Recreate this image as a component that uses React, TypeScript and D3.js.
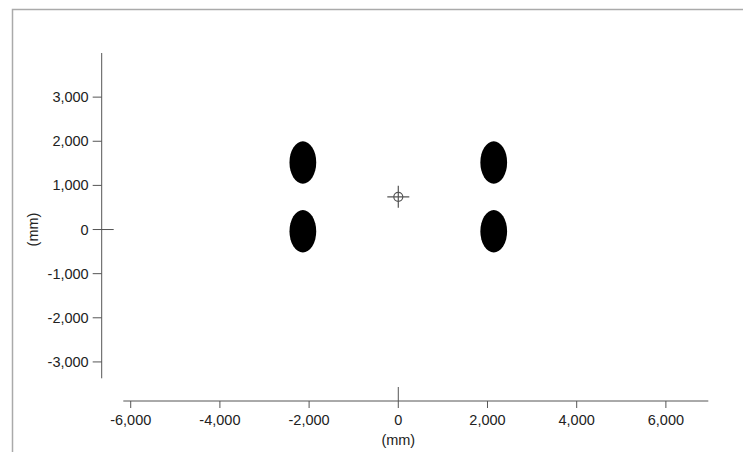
import { useEffect, useRef } from "react";
import * as d3 from "d3";

// tick values (mm)
const xTicks = [-6000, -4000, -2000, 0, 2000, 4000, 6000];
const yTicks = [-3000, -2000, -1000, 0, 1000, 2000, 3000];

// support pads (centre position in mm)
const padX = [-2140, -2140, 2140, 2140];
const padY = [1520, -40, 1520, -40];
const padWidthMm = 600;
const padLengthMm = 960;

// centre of gravity marker (mm)
const cogX = [0];
const cogY = [740];

const xDomain = [-6166, 6951];
const yDomain = [-3371, 4000];

const WIDTH = 743;
const HEIGHT = 452;

export default function App() {
  const svgRef = useRef<SVGSVGElement>(null);

  useEffect(() => {
    if (!svgRef.current) return;
    const svg = d3.select(svgRef.current);
    svg.selectAll("*").remove();

    const font = "'Liberation Sans', Arial, sans-serif";
    const axisColor = "#555";
    const textColor = "#222";
    const fontSize = "14.5px";

    const xScale = d3.scaleLinear().domain(xDomain).range([123.3, 708.3]);
    const yScale = d3.scaleLinear().domain(yDomain).range([378.3, 53]);
    const xAxisY = 401;
    const yAxisX = 101.7;

    // outer frame
    svg
      .append("path")
      .attr("d", `M12.5,${HEIGHT} V9.5 H${WIDTH}`)
      .attr("fill", "none")
      .attr("stroke", "#aaa")
      .attr("stroke-width", 1.5);

    // y axis
    const gy = svg.append("g");
    gy.append("line")
      .attr("x1", yAxisX)
      .attr("x2", yAxisX)
      .attr("y1", yScale(yDomain[1]))
      .attr("y2", yScale(yDomain[0]))
      .attr("stroke", axisColor);
    gy.selectAll(".ytick")
      .data(yTicks)
      .enter()
      .append("line")
      .attr("x1", yAxisX - 9)
      .attr("x2", (d) => (d === 0 ? yAxisX + 12 : yAxisX))
      .attr("y1", (d) => yScale(d))
      .attr("y2", (d) => yScale(d))
      .attr("stroke", axisColor);
    gy.selectAll(".ylabel")
      .data(yTicks)
      .enter()
      .append("text")
      .attr("x", yAxisX - 13)
      .attr("y", (d) => yScale(d) + 5)
      .attr("text-anchor", "end")
      .style("font-family", font)
      .style("font-size", fontSize)
      .style("fill", textColor)
      .text((d) => d3.format(",")(d).replace("−", "-"));
    svg
      .append("text")
      .attr("transform", `translate(38,${yScale(0)}) rotate(-90)`)
      .attr("text-anchor", "middle")
      .style("font-family", font)
      .style("font-size", fontSize)
      .style("fill", textColor)
      .text("(mm)");

    // x axis
    const gx = svg.append("g");
    gx.append("line")
      .attr("x1", xScale(xDomain[0]))
      .attr("x2", xScale(xDomain[1]))
      .attr("y1", xAxisY)
      .attr("y2", xAxisY)
      .attr("stroke", axisColor);
    gx.selectAll(".xtick")
      .data(xTicks)
      .enter()
      .append("line")
      .attr("x1", (d) => xScale(d))
      .attr("x2", (d) => xScale(d))
      .attr("y1", (d) => (d === 0 ? xAxisY - 14 : xAxisY))
      .attr("y2", xAxisY + 7)
      .attr("stroke", axisColor);
    gx.selectAll(".xlabel")
      .data(xTicks)
      .enter()
      .append("text")
      .attr("x", (d) => xScale(d))
      .attr("y", xAxisY + 24)
      .attr("text-anchor", "middle")
      .style("font-family", font)
      .style("font-size", fontSize)
      .style("fill", textColor)
      .text((d) => d3.format(",")(d).replace("−", "-"));
    svg
      .append("text")
      .attr("x", xScale(0))
      .attr("y", 445)
      .attr("text-anchor", "middle")
      .style("font-family", font)
      .style("font-size", fontSize)
      .style("fill", textColor)
      .text("(mm)");

    // pads
    const rx = Math.abs(xScale(padWidthMm / 2) - xScale(0));
    const ry = Math.abs(yScale(padLengthMm / 2) - yScale(0));
    svg
      .selectAll(".pad")
      .data(padX.map((x, i) => ({ x, y: padY[i] })))
      .enter()
      .append("ellipse")
      .attr("cx", (d) => xScale(d.x))
      .attr("cy", (d) => yScale(d.y))
      .attr("rx", rx)
      .attr("ry", ry)
      .attr("fill", "#000");

    // centre of gravity crosshair
    const cog = svg
      .selectAll(".cog")
      .data(cogX.map((x, i) => ({ x, y: cogY[i] })))
      .enter()
      .append("g")
      .attr("transform", (d) => `translate(${xScale(d.x)},${yScale(d.y)})`);
    cog
      .append("circle")
      .attr("r", 4.5)
      .attr("fill", "none")
      .attr("stroke", "#555")
      .attr("stroke-width", 1.2);
    cog
      .append("path")
      .attr("d", "M-11,0 H11 M0,-11 V11")
      .attr("stroke", "#555")
      .attr("stroke-width", 1.2);
  }, []);

  return (
    <svg
      ref={svgRef}
      width={WIDTH}
      height={HEIGHT}
      style={{ position: "absolute", left: 0, top: 0, background: "#fff" }}
    />
  );
}
